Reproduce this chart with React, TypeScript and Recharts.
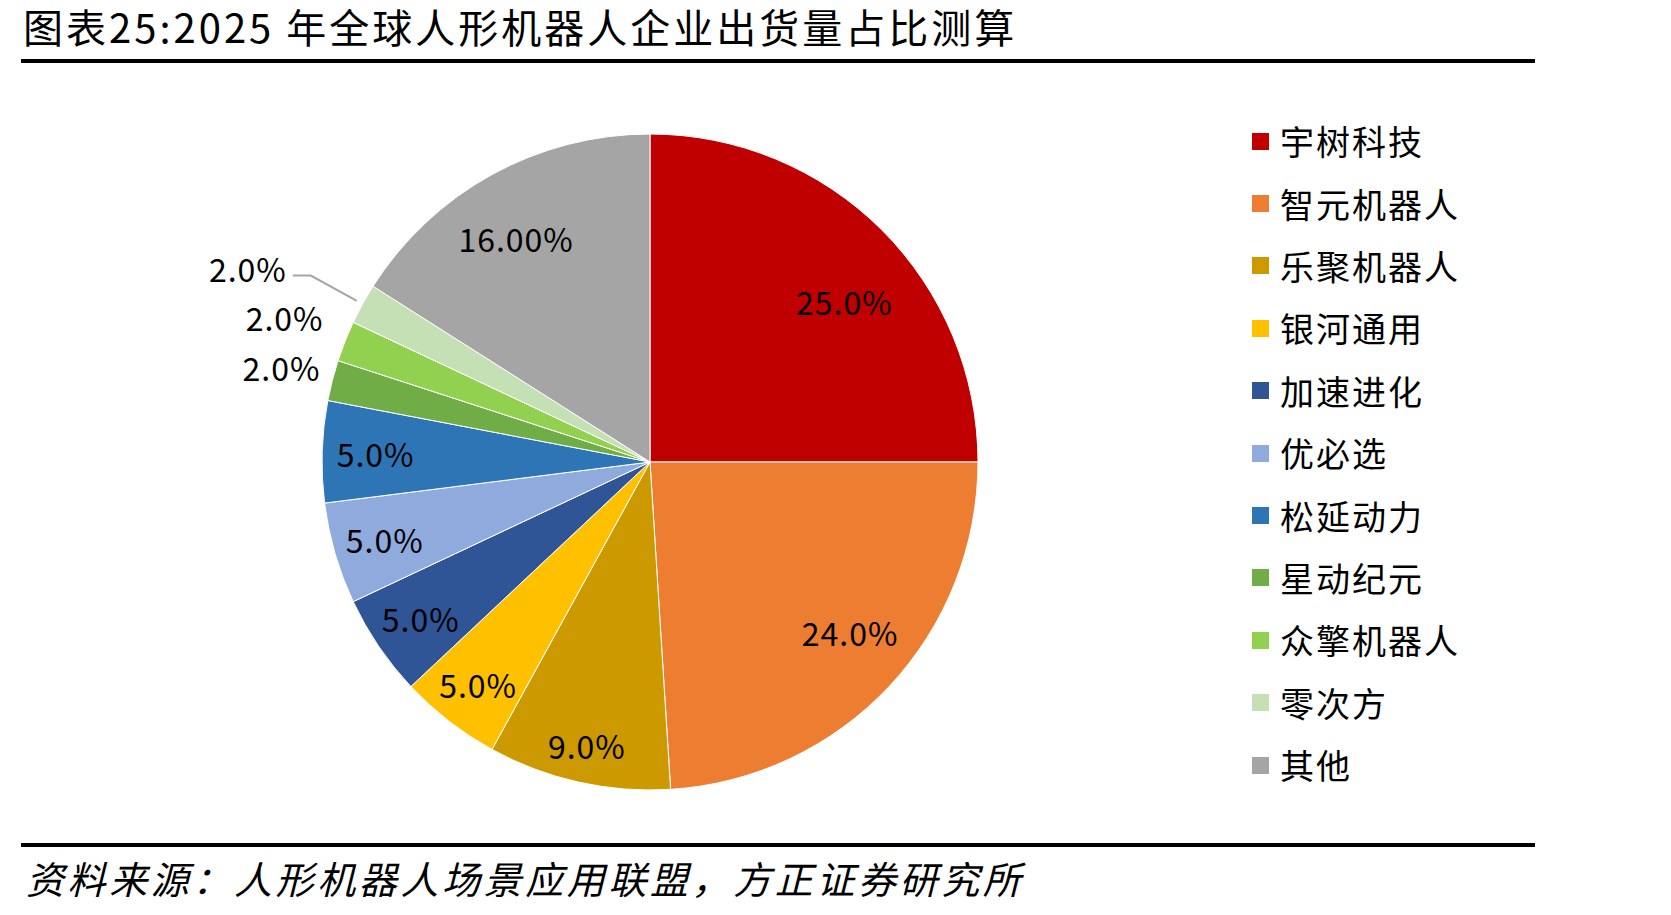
import { PieChart, Pie, Cell, Legend } from 'recharts'

const COMPANIES = [
  '宇树科技', '智元机器人', '乐聚机器人', '银河通用', '加速进化', '优必选',
  '松延动力', '星动纪元', '众擎机器人', '零次方', '其他',
]
const SHARES = [25, 24, 9, 5, 5, 5, 5, 2, 2, 2, 16]
const SHARE_LABELS = ['25.0%', '24.0%', '9.0%', '5.0%', '5.0%', '5.0%', '5.0%', '2.0%', '2.0%', '2.0%', '16.00%']

const COLORS = [
  '#C00000', '#ED7D31', '#CC9900', '#FFC000', '#2F5597', '#8FAADC',
  '#2E75B6', '#70AD47', '#92D050', '#C5E0B4', '#A5A5A5',
]
// label distance from centre (fraction of radius) and clockwise nudge in degrees
const LABEL_R = [0.77, 0.8, 0.883, 0.855, 0.845, 0.842, 0.837, 1.16, 1.198, 1.18, 0.795]
const LABEL_NUDGE = [5.3, -2.9, 0, 0, 0, 0, 0, 0, 0, 0, -2.1]

const TITLE = '图表25:2025 年全球人形机器人企业出货量占比测算'
const SOURCE = '资料来源：人形机器人场景应用联盟，方正证券研究所'

const FONT = '"Noto Sans CJK SC", "Noto Sans", sans-serif'
const RAD = Math.PI / 180

const data = COMPANIES.map((name, i) => ({ name, value: SHARES[i], label: SHARE_LABELS[i] }))

interface LabelProps {
  cx?: number
  cy?: number
  midAngle?: number
  outerRadius?: number
  index?: number
}

function polar(cx: number, cy: number, r: number, angle: number) {
  return { x: cx + Math.cos(-angle * RAD) * r, y: cy + Math.sin(-angle * RAD) * r }
}

function SliceLabel({ cx = 0, cy = 0, midAngle = 0, outerRadius = 0, index = 0 }: LabelProps) {
  const text = data[index].label
  if (index === 9) {
    // the thin slice gets a leader line with an elbow
    const p1 = polar(cx, cy, outerRadius * 1.02, midAngle)
    const p2 = polar(cx, cy, outerRadius * LABEL_R[index], midAngle)
    return (
      <g>
        <polyline
          points={`${p1.x},${p1.y} ${p2.x},${p2.y} ${p2.x - 18},${p2.y}`}
          fill="none"
          stroke="#A5A5A5"
          strokeWidth={2}
        />
        <text x={p2.x - 24} y={p2.y - 8} textAnchor="end" dominantBaseline="central"
          fontSize={32} fontFamily={FONT} letterSpacing={1} fill="#000">
          {text}
        </text>
      </g>
    )
  }
  const p = polar(cx, cy, outerRadius * LABEL_R[index], midAngle - LABEL_NUDGE[index])
  return (
    <text x={p.x} y={p.y} textAnchor="middle" dominantBaseline="central"
      fontSize={32} fontFamily={FONT} letterSpacing={1} fill="#000">
      {text}
    </text>
  )
}

function LegendBox() {
  return (
    <div style={{ display: 'flex', flexDirection: 'column' }}>
      {COMPANIES.map((name, i) => (
        <div key={name} style={{ height: 62.4, display: 'flex', alignItems: 'center' }}>
          <span style={{ width: 17, height: 17, background: COLORS[i], marginRight: 11, display: 'inline-block' }} />
          <span style={{ fontSize: 34, letterSpacing: 2, fontFamily: FONT, color: '#000', lineHeight: 1 }}>{name}</span>
        </div>
      ))}
    </div>
  )
}

export default function App() {
  return (
    <div style={{ position: 'absolute', left: 0, top: 0, width: 1671, height: 915, background: '#fff', fontFamily: FONT }}>
      <div style={{ position: 'absolute', left: 23, top: 2, fontSize: 40, letterSpacing: 3, lineHeight: '48px', whiteSpace: 'nowrap' }}>
        {TITLE}
      </div>
      <div style={{ position: 'absolute', left: 21, top: 59, width: 1514, height: 4, background: '#000' }} />
      <PieChart width={1671} height={915} style={{ position: 'absolute', left: 0, top: 0 }}>
        <Pie
          data={data}
          dataKey="value"
          nameKey="name"
          cx={645}
          cy={457}
          outerRadius={328}
          startAngle={90}
          endAngle={-270}
          stroke="#fff"
          strokeWidth={1}
          label={SliceLabel}
          labelLine={false}
          isAnimationActive={false}
        >
          {data.map((d, i) => (
            <Cell key={d.name} fill={COLORS[i]} />
          ))}
        </Pie>
        <Legend
          content={<LegendBox />}
          layout="vertical"
          align="right"
          verticalAlign="top"
          wrapperStyle={{ position: 'absolute', left: 1252, top: 110, width: 300 }}
        />
      </PieChart>
      <div style={{ position: 'absolute', left: 21, top: 843, width: 1514, height: 4, background: '#000' }} />
      <div style={{ position: 'absolute', left: 26, top: 855, fontSize: 38, letterSpacing: 3.6, fontStyle: 'italic', lineHeight: '46px', whiteSpace: 'nowrap' }}>
        {SOURCE}
      </div>
    </div>
  )
}
